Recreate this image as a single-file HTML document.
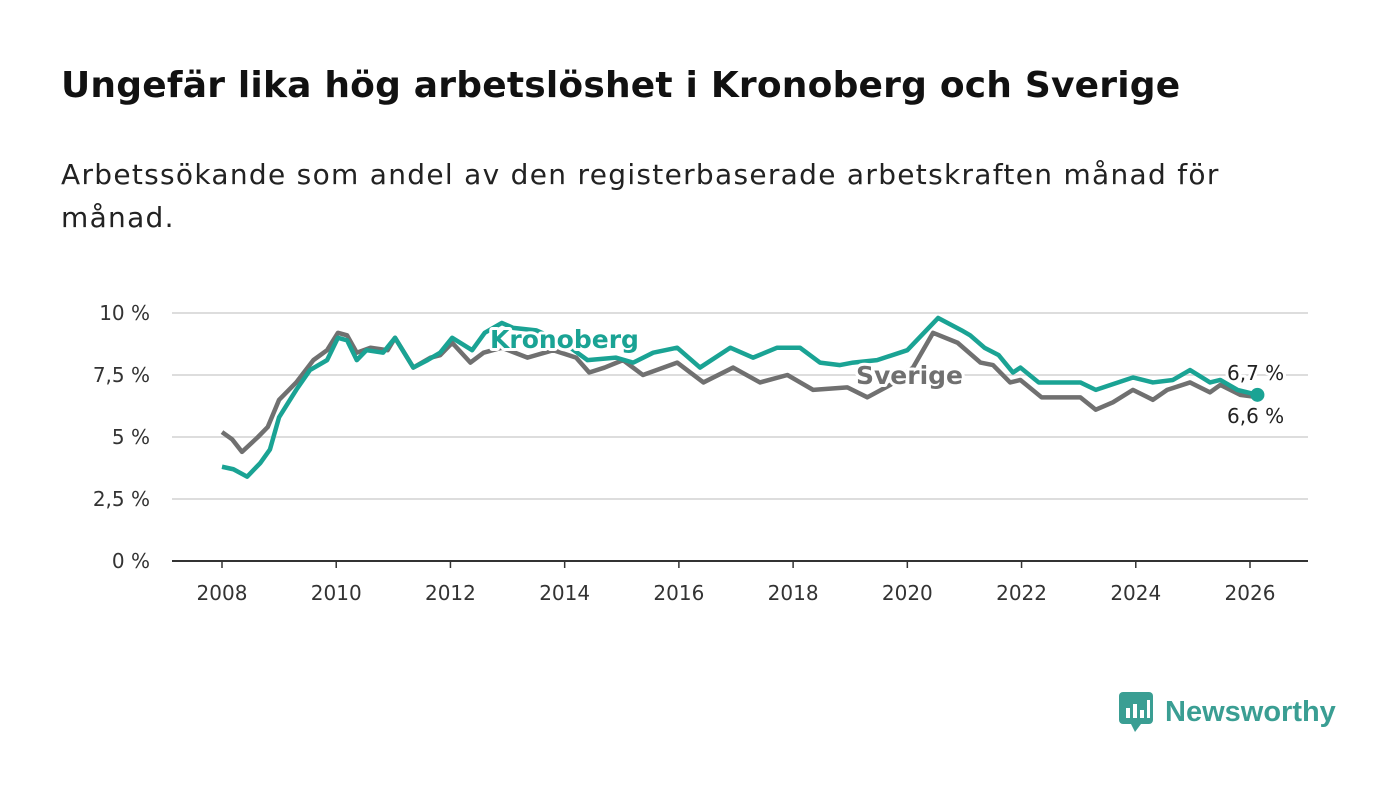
<!DOCTYPE html>
<html><head><meta charset="utf-8"><style>
body{margin:0;width:1400px;height:794px;background:#fff;font-family:"DejaVu Sans","Liberation Sans",sans-serif;overflow:hidden;position:relative}
h1{position:absolute;left:61px;top:65px;margin:0;font-size:36px;font-weight:bold;color:#111;white-space:nowrap;letter-spacing:0.2px}
.sub{position:absolute;left:61px;top:153px;font-size:28px;line-height:43px;color:#222;width:1250px;letter-spacing:1.3px;white-space:nowrap}
</style></head><body>
<h1>Ungefär lika hög arbetslöshet i Kronoberg och Sverige</h1>
<div class="sub">Arbetssökande som andel av den registerbaserade arbetskraften månad för<br>månad.</div>
<svg id="chart" width="1400" height="794" style="position:absolute;left:0;top:0"></svg>
<div style="position:absolute;left:1119px;top:690px;display:flex;align-items:center">
<svg width="36" height="44"><rect x="0" y="2" width="34" height="32" rx="4" fill="#3a9e93"/><polygon points="12,34 22,34 16,42" fill="#3a9e93"/><rect x="7" y="18" width="4" height="10" fill="#fff"/><rect x="14" y="14" width="4" height="14" fill="#fff"/><rect x="21" y="20" width="4" height="8" fill="#fff"/><rect x="28" y="10" width="3" height="18" fill="#fff"/></svg>
<span style="font-family:'Liberation Sans',sans-serif;font-size:29px;color:#3a9e93;margin-left:10px;font-weight:bold">Newsworthy</span></div>
<script>
const yTicks=[0,2.5,5,7.5,10];
const yTickLabels=["0 %","2,5 %","5 %","7,5 %","10 %"];
const xTicks=[2008,2010,2012,2014,2016,2018,2020,2022,2024,2026];
const kronDates=[2008.0,2008.2,2008.44,2008.67,2008.84,2009.0,2009.3,2009.54,2009.84,2010.03,2010.19,2010.36,2010.53,2010.82,2011.03,2011.35,2011.6,2011.82,2012.03,2012.38,2012.6,2012.9,2013.1,2013.5,2013.9,2014.1,2014.4,2014.9,2015.2,2015.55,2015.97,2016.37,2016.9,2017.3,2017.72,2018.12,2018.47,2018.82,2019.05,2019.47,2020.0,2020.54,2020.95,2021.1,2021.35,2021.6,2021.85,2021.98,2022.3,2023.03,2023.3,2023.95,2024.3,2024.65,2024.95,2025.3,2025.48,2025.78,2026.13];
const kronVals=[3.8,3.7,3.4,3.95,4.5,5.8,6.9,7.7,8.1,9.0,8.9,8.1,8.5,8.4,9.0,7.8,8.1,8.4,9.0,8.5,9.2,9.6,9.4,9.3,8.9,8.6,8.1,8.2,8.0,8.4,8.6,7.8,8.6,8.2,8.6,8.6,8.0,7.9,8.0,8.1,8.5,9.8,9.3,9.1,8.6,8.3,7.6,7.8,7.2,7.2,6.9,7.4,7.2,7.3,7.7,7.2,7.3,6.9,6.7];
const sveDates=[2008.0,2008.18,2008.35,2008.63,2008.8,2009.0,2009.3,2009.6,2009.84,2010.03,2010.19,2010.36,2010.6,2010.9,2011.03,2011.35,2011.65,2011.82,2012.03,2012.35,2012.58,2012.9,2013.35,2013.8,2014.2,2014.43,2014.7,2015.02,2015.37,2015.97,2016.43,2016.95,2017.42,2017.9,2018.35,2018.95,2019.3,2019.7,2020.1,2020.45,2020.88,2021.28,2021.5,2021.8,2021.98,2022.35,2023.03,2023.3,2023.6,2023.95,2024.3,2024.55,2024.95,2025.3,2025.48,2025.83,2026.15];
const sveVals=[5.2,4.9,4.4,5.0,5.4,6.5,7.2,8.1,8.5,9.2,9.1,8.4,8.6,8.5,9.0,7.8,8.2,8.3,8.8,8.0,8.4,8.6,8.2,8.5,8.2,7.6,7.8,8.1,7.5,8.0,7.2,7.8,7.2,7.5,6.9,7.0,6.6,7.1,7.8,9.2,8.8,8.0,7.9,7.2,7.3,6.6,6.6,6.1,6.4,6.9,6.5,6.9,7.2,6.8,7.1,6.7,6.6];
const svg=document.getElementById('chart');const NS='http://www.w3.org/2000/svg';
const X=y=>222+(y-2008)*(1250-222)/18;const Y=v=>561-v*24.8;
function mk(t,a,p){const e=document.createElementNS(NS,t);for(const k in a)e.setAttribute(k,a[k]);(p||svg).appendChild(e);return e;}
yTicks.forEach((v,i)=>{
 const l=mk('line',{x1:172,x2:1308,y1:Y(v),y2:Y(v),stroke:v===0?'#333':'#ddd','stroke-width':2});
 
 
 const t=mk('text',{x:150,y:Y(v)+7,'text-anchor':'end','font-size':20,fill:'#333'});t.textContent=yTickLabels[i];
 
 
});
xTicks.forEach(yr=>{
 const l=mk('line',{x1:X(yr),x2:X(yr),y1:561,y2:568,stroke:'#333','stroke-width':1.5});
 
 
 const t=mk('text',{x:X(yr),y:600,'text-anchor':'middle','font-size':20,fill:'#333'});t.textContent=yr;
 
 
});
function line(d,v,c,name){const p=mk('polyline',{points:d.map((x,i)=>X(x)+','+Y(v[i])).join(' '),fill:'none',stroke:c,'stroke-width':4.5,'stroke-linejoin':'round'});
 
 }
line(sveDates,sveVals,'#707070','sverige-line');
line(kronDates,kronVals,'#1aa394','kronoberg-line');
const dot=mk('circle',{cx:X(kronDates[kronDates.length-1]),cy:Y(kronVals[kronVals.length-1]),r:7,fill:'#1aa394'});


function lab(x,y,txt,c,sz,bold,name){const t=mk('text',{x:x,y:y,'font-size':sz,fill:c,'font-weight':bold?'bold':'normal',stroke:'#fff','stroke-width':6,'paint-order':'stroke','stroke-linejoin':'round'});t.textContent=txt;
 
 }
lab(490,348,'Kronoberg','#1aa394',25,true,'kronoberg-label');
lab(856,384,'Sverige','#707070',25,true,'sverige-label');
lab(1227,380,'6,7 %','#222',20,false,'kronoberg-end-value');
lab(1227,423,'6,6 %','#222',20,false,'sverige-end-value');
</script>
</body></html>
